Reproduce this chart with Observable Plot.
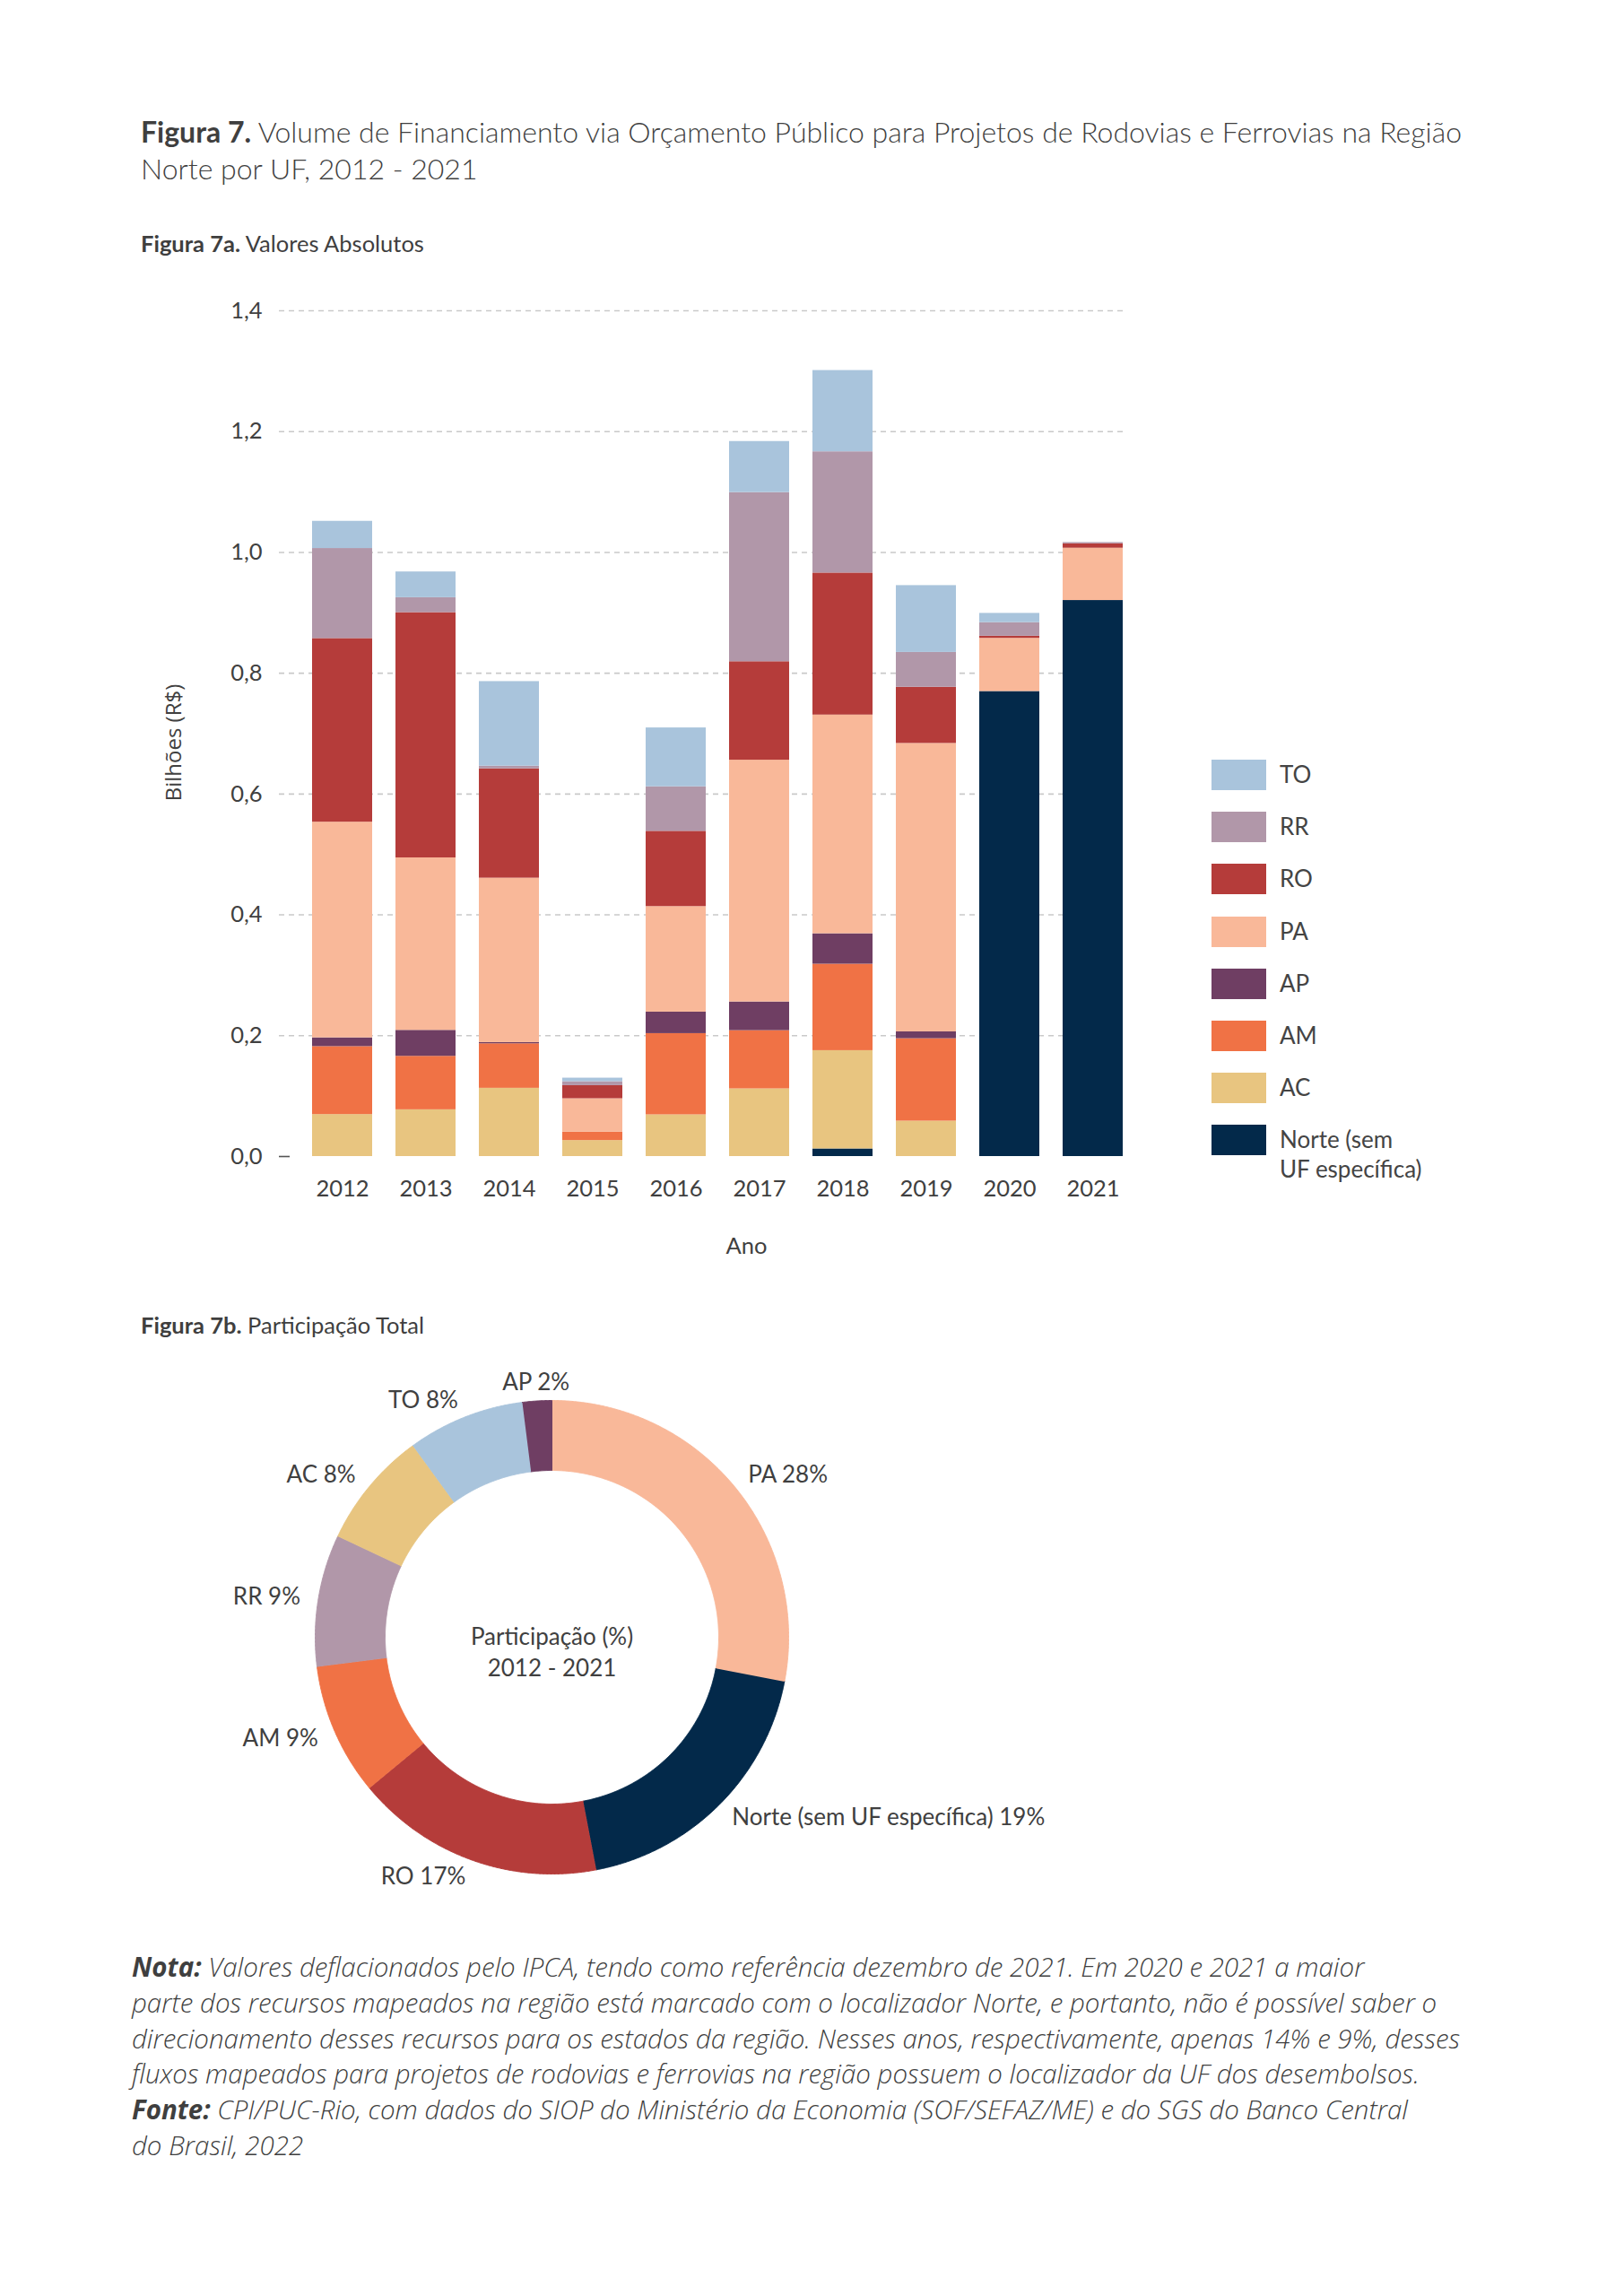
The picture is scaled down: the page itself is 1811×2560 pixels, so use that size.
<!DOCTYPE html>
<html><head><meta charset="utf-8">
<script src="https://cdn.jsdelivr.net/npm/d3@7"></script>
<script src="https://cdn.jsdelivr.net/npm/@observablehq/plot@0.6"></script>
<style>
html,body{margin:0;padding:0;background:#fff;}
body{width:1811px;height:2560px;position:relative;font-family:Lato,"Open Sans",sans-serif;color:#3f3f3f;overflow:hidden;}
.abs{position:absolute;white-space:nowrap;}
#title{left:157px;top:126px;font-size:32px;line-height:41px;font-weight:300;}
#title b,#sub7a b,#sub7b b{font-weight:700;}
#sub7a{left:157px;top:256px;font-size:25.5px;line-height:30px;font-weight:400;}
#sub7b{left:157px;top:1462px;font-size:25.5px;line-height:30px;font-weight:400;}
#chart1{left:150px;top:300px;}
#chart2{left:150px;top:1500px;}
#legend{left:1351px;top:847px;}
.lrow{display:flex;align-items:flex-start;height:58.2px;}
.sw{width:61px;height:34px;flex:none;}
.lt{margin-left:15px;font-size:26px;line-height:33px;color:#444;}
#note{left:147px;top:2173px;font-family:"Open Sans",Lato,sans-serif;font-size:29.5px;line-height:39.8px;font-style:italic;font-weight:300;}
#note b{font-weight:700;}
</style></head>
<body>
<div id="title" class="abs"><b>Figura 7.</b> Volume de Financiamento via Orçamento Público para Projetos de Rodovias e Ferrovias na Região<br>Norte por UF, 2012 - 2021</div>
<div id="sub7a" class="abs"><b>Figura 7a.</b> Valores Absolutos</div>
<div id="chart1" class="abs"></div>
<div id="legend" class="abs"></div>
<div id="sub7b" class="abs"><b>Figura 7b.</b> Participação Total</div>
<div id="chart2" class="abs"></div>
<div id="note" class="abs"><b>Nota:</b> Valores deflacionados pelo IPCA, tendo como referência dezembro de 2021. Em 2020 e 2021 a maior<br>parte dos recursos mapeados na região está marcado com o localizador Norte, e portanto, não é possível saber o<br>direcionamento desses recursos para os estados da região. Nesses anos, respectivamente, apenas 14% e 9%, desses<br>fluxos mapeados para projetos de rodovias e ferrovias na região possuem o localizador da UF dos desembolsos.<br><b>Fonte:</b> CPI/PUC-Rio, com dados do SIOP do Ministério da Economia (SOF/SEFAZ/ME) e do SGS do Banco Central<br>do Brasil, 2022</div>
<script>
// ---- Data ----
const years = ["2012","2013","2014","2015","2016","2017","2018","2019","2020","2021"];
// stacking order bottom -> top
const series = ["Norte","AC","AM","AP","PA","RO","RR","TO"];
const seriesNames = ["Norte (sem UF específica)","AC","AM","AP","PA","RO","RR","TO"];
const seriesColors = ["#03294a","#e8c580","#f07245","#6f3e63","#f9b899","#b53c3a","#b197a9","#a9c4dc"];
// values in R$ billions
const valNorte = [0,0,0,0,0,0,0.0126,0,0.7698,0.9204];
const valAC = [0.0695,0.0774,0.113,0.0265,0.069,0.112,0.1627,0.0586,0,0];
const valAM = [0.1125,0.0885,0.0737,0.0138,0.1345,0.0964,0.1431,0.1365,0,0];
const valAP = [0.0145,0.043,0.0019,0,0.0356,0.0475,0.0504,0.0113,0,0];
const valPA = [0.357,0.2855,0.2722,0.0554,0.1747,0.4002,0.362,0.4774,0.088,0.0866];
const valRO = [0.304,0.406,0.181,0.0217,0.1246,0.163,0.2351,0.093,0.0035,0.0073];
const valRR = [0.149,0.0247,0.0044,0.0065,0.0737,0.28,0.2007,0.0577,0.0225,0.002];
const valTO = [0.045,0.0426,0.14,0.0059,0.0974,0.0845,0.1345,0.1106,0.0153,0];
const yTicks = [0,0.2,0.4,0.6,0.8,1.0,1.2,1.4];
// donut (clockwise from top)
const pieKeys = ["PA","Norte","RO","AM","RR","AC","TO","AP"];
const pieLabels = ["PA","Norte (sem UF específica)","RO","AM","RR","AC","TO","AP"];
const piePct = [28,19,17,9,9,8,8,2];
const centerText = "Participação (%)\n2012 - 2021";

// ---- Build tables ----
const valuesBySeries = [valNorte,valAC,valAM,valAP,valPA,valRO,valRR,valTO];
const rows = [];
series.forEach((s,i)=>years.forEach((y,j)=>rows.push({year:y, uf:s, value:valuesBySeries[i][j]})));
const fmt = d => d.toFixed(1).replace(".", ",");
const colorScale = {domain: series, range: seriesColors};

// ---- Figure 7a ----
const chart1 = Plot.plot({
  width: 1180, height: 1120,
  marginLeft: 184, marginRight: 64, marginTop: 46, marginBottom: 131,
  style: {fontFamily: "Lato, sans-serif", fontSize: "25.5px", color: "#404040", background: "transparent"},
  x: {domain: years, paddingInner: 0.28, paddingOuter: 0.14, axis: null},
  y: {domain: [0, 1.4], axis: null},
  color: colorScale,
  marks: [
    Plot.ruleY(yTicks.filter(d => d > 0), {stroke: "#c9c9c9", strokeWidth: 1.6, strokeDasharray: "6,5", insetLeft: -23, insetRight: 13}),
    Plot.barY(rows, {x: "year", y: "value", fill: "uf"}),
    Plot.ruleY([0], {stroke: "#555", strokeWidth: 1.6, insetLeft: -23, insetRight: 943}),
    Plot.axisY(yTicks, {tickSize: 0, tickPadding: 42, tickFormat: fmt, label: null, fill: "#404040"}),
    Plot.axisX({tickSize: 0, tickPadding: 26, label: null, fill: "#404040"}),
    Plot.text(["Ano"], {frameAnchor: "bottom", dx: 32, dy: 108, fill: "#404040"}),
    Plot.text(["Bilhões (R$)"], {frameAnchor: "left", textAnchor: "middle", rotate: -90, dx: -140, dy: 10, fontSize: 24, fontFamily: "Open Sans", fill: "#404040"})
  ]
});
document.getElementById("chart1").appendChild(chart1);

// legend (top -> bottom = reverse of stacking order)
const legend = document.getElementById("legend");
for (let i = series.length - 1; i >= 0; i--) {
  const row = document.createElement("div"); row.className = "lrow";
  const sw = document.createElement("div"); sw.className = "sw"; sw.style.background = seriesColors[i];
  const lt = document.createElement("div"); lt.className = "lt";
  lt.innerHTML = series[i] === "Norte" ? "Norte (sem<br>UF específica)" : seriesNames[i];
  row.appendChild(sw); row.appendChild(lt); legend.appendChild(row);
}

// ---- Figure 7b (donut) ----
const R0 = 186, R1 = 264, RL = 284;
const total = d3.sum(piePct);
const ring = [], labelsPos = [];
let acc = 0;
pieKeys.forEach((k, i) => {
  const a0 = acc / total * 2 * Math.PI;
  acc += piePct[i];
  const a1 = acc / total * 2 * Math.PI;
  const n = Math.max(2, Math.ceil((a1 - a0) / 0.005));
  for (let t = 0; t <= n; t++) { const a = a0 + (a1 - a0) * t / n; ring.push({k, x: R1 * Math.sin(a), y: -R1 * Math.cos(a)}); }
  for (let t = n; t >= 0; t--) { const a = a0 + (a1 - a0) * t / n; ring.push({k, x: R0 * Math.sin(a), y: -R0 * Math.cos(a)}); }
  const am = (a0 + a1) / 2;
  const x = RL * Math.sin(am), y = -RL * Math.cos(am);
  labelsPos.push({x, y, text: `${pieLabels[i]} ${piePct[i]}%`, anchor: x > 20 ? "start" : x < -20 ? "end" : "middle"});
});
const chart2 = Plot.plot({
  width: 1100, height: 700, margin: 0,
  style: {fontFamily: "Lato, sans-serif", fontSize: "26px", color: "#404040", background: "transparent"},
  x: {domain: [-465, 635], range: [0, 1100], axis: null},
  y: {domain: [-325, 375], range: [0, 700], axis: null},
  color: colorScale,
  marks: [
    Plot.line(ring, {x: "x", y: "y", z: "k", fill: "k", stroke: "k", strokeWidth: 1, curve: "linear"}),
    Plot.text(labelsPos, {filter: d => d.anchor === "start", x: "x", y: "y", text: "text", textAnchor: "start", fill: "#404040"}),
    Plot.text(labelsPos, {filter: d => d.anchor === "end", x: "x", y: "y", text: "text", textAnchor: "end", fill: "#404040"}),
    Plot.text(labelsPos, {filter: d => d.anchor === "middle", x: "x", y: "y", text: "text", textAnchor: "middle", fill: "#404040"}),
    Plot.text([centerText], {x: 0, y: 0, dy: 15, lineHeight: 1.36, fill: "#404040"})
  ]
});
document.getElementById("chart2").appendChild(chart2);
</script>
</body></html>
